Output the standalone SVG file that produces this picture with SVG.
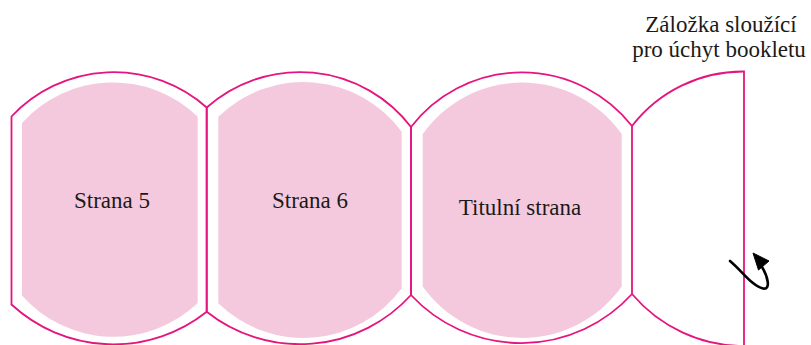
<svg xmlns="http://www.w3.org/2000/svg" width="811" height="345" viewBox="0 0 811 345">
  <style>
    .outline { fill: none; stroke: #e5157f; stroke-width: 1.8; stroke-linejoin: miter; }
    .page { fill: #f5c9dd; stroke: none; }
    .label { font-family: "Liberation Serif", "Times New Roman", serif; font-size: 23px; fill: #1a1a1a; text-anchor: middle; }
    .turn { fill: none; stroke: #000; stroke-width: 2.6; stroke-linecap: round; }
    .turn-head { fill: #000; stroke: #000; stroke-width: 1; stroke-linejoin: miter; }
  </style>

  <!-- page 5 -->
  <g id="page-5">
    <path class="page" d="M22,123 A122,122 0 0 1 197.7,116.7 L197.7,303 A122,122 0 0 1 22,295.5 Z"/>
    <path class="outline" d="M11.5,116.5 A140,140 0 0 1 206.7,107.5 L206.7,311.7 A150,150 0 0 1 11.5,304.5 Z"/>
    <text class="label" x="112" y="208">Strana 5</text>
  </g>

  <!-- page 6 -->
  <g id="page-6">
    <path class="page" d="M218.3,116.7 A122,122 0 0 1 401.7,131.7 L401.7,288.3 A122,122 0 0 1 218.3,303.3 Z"/>
    <path class="outline" d="M206.7,107.5 A140,140 0 0 1 411,127 L411,295 A150,150 0 0 1 206.7,311.7 Z"/>
    <text class="label" x="310" y="208">Strana 6</text>
  </g>

  <!-- cover -->
  <g id="cover">
    <path class="page" d="M422.7,134 A122,122 0 0 1 621.7,134 L621.7,286.5 A122,122 0 0 1 422.7,286.5 Z"/>
    <path class="outline" d="M411,127 A140,140 0 0 1 632,126 L632,294 A150,150 0 0 1 411,295 Z"/>
    <text class="label" x="520" y="215">Titulní strana</text>
  </g>

  <!-- tab for holding the booklet -->
  <g id="tab">
    <path class="outline" d="M632,126 A140,140 0 0 1 744,71.5 L744,347"/>
    <path class="outline" d="M632,294 A147,147 0 0 0 744,346"/>
    <text class="label" x="721" y="32">Záložka sloužící</text>
    <text class="label" x="719" y="56.5">pro úchyt bookletu</text>
  </g>

  <!-- folding direction -->
  <g id="connectors">
    <path class="turn" d="M730,261 C742,271 752,286 763,288.5 C771,290 768,277 762,267"/>
    <polygon class="turn-head" points="753,253 769,261 758.5,270"/>
  </g>
</svg>
